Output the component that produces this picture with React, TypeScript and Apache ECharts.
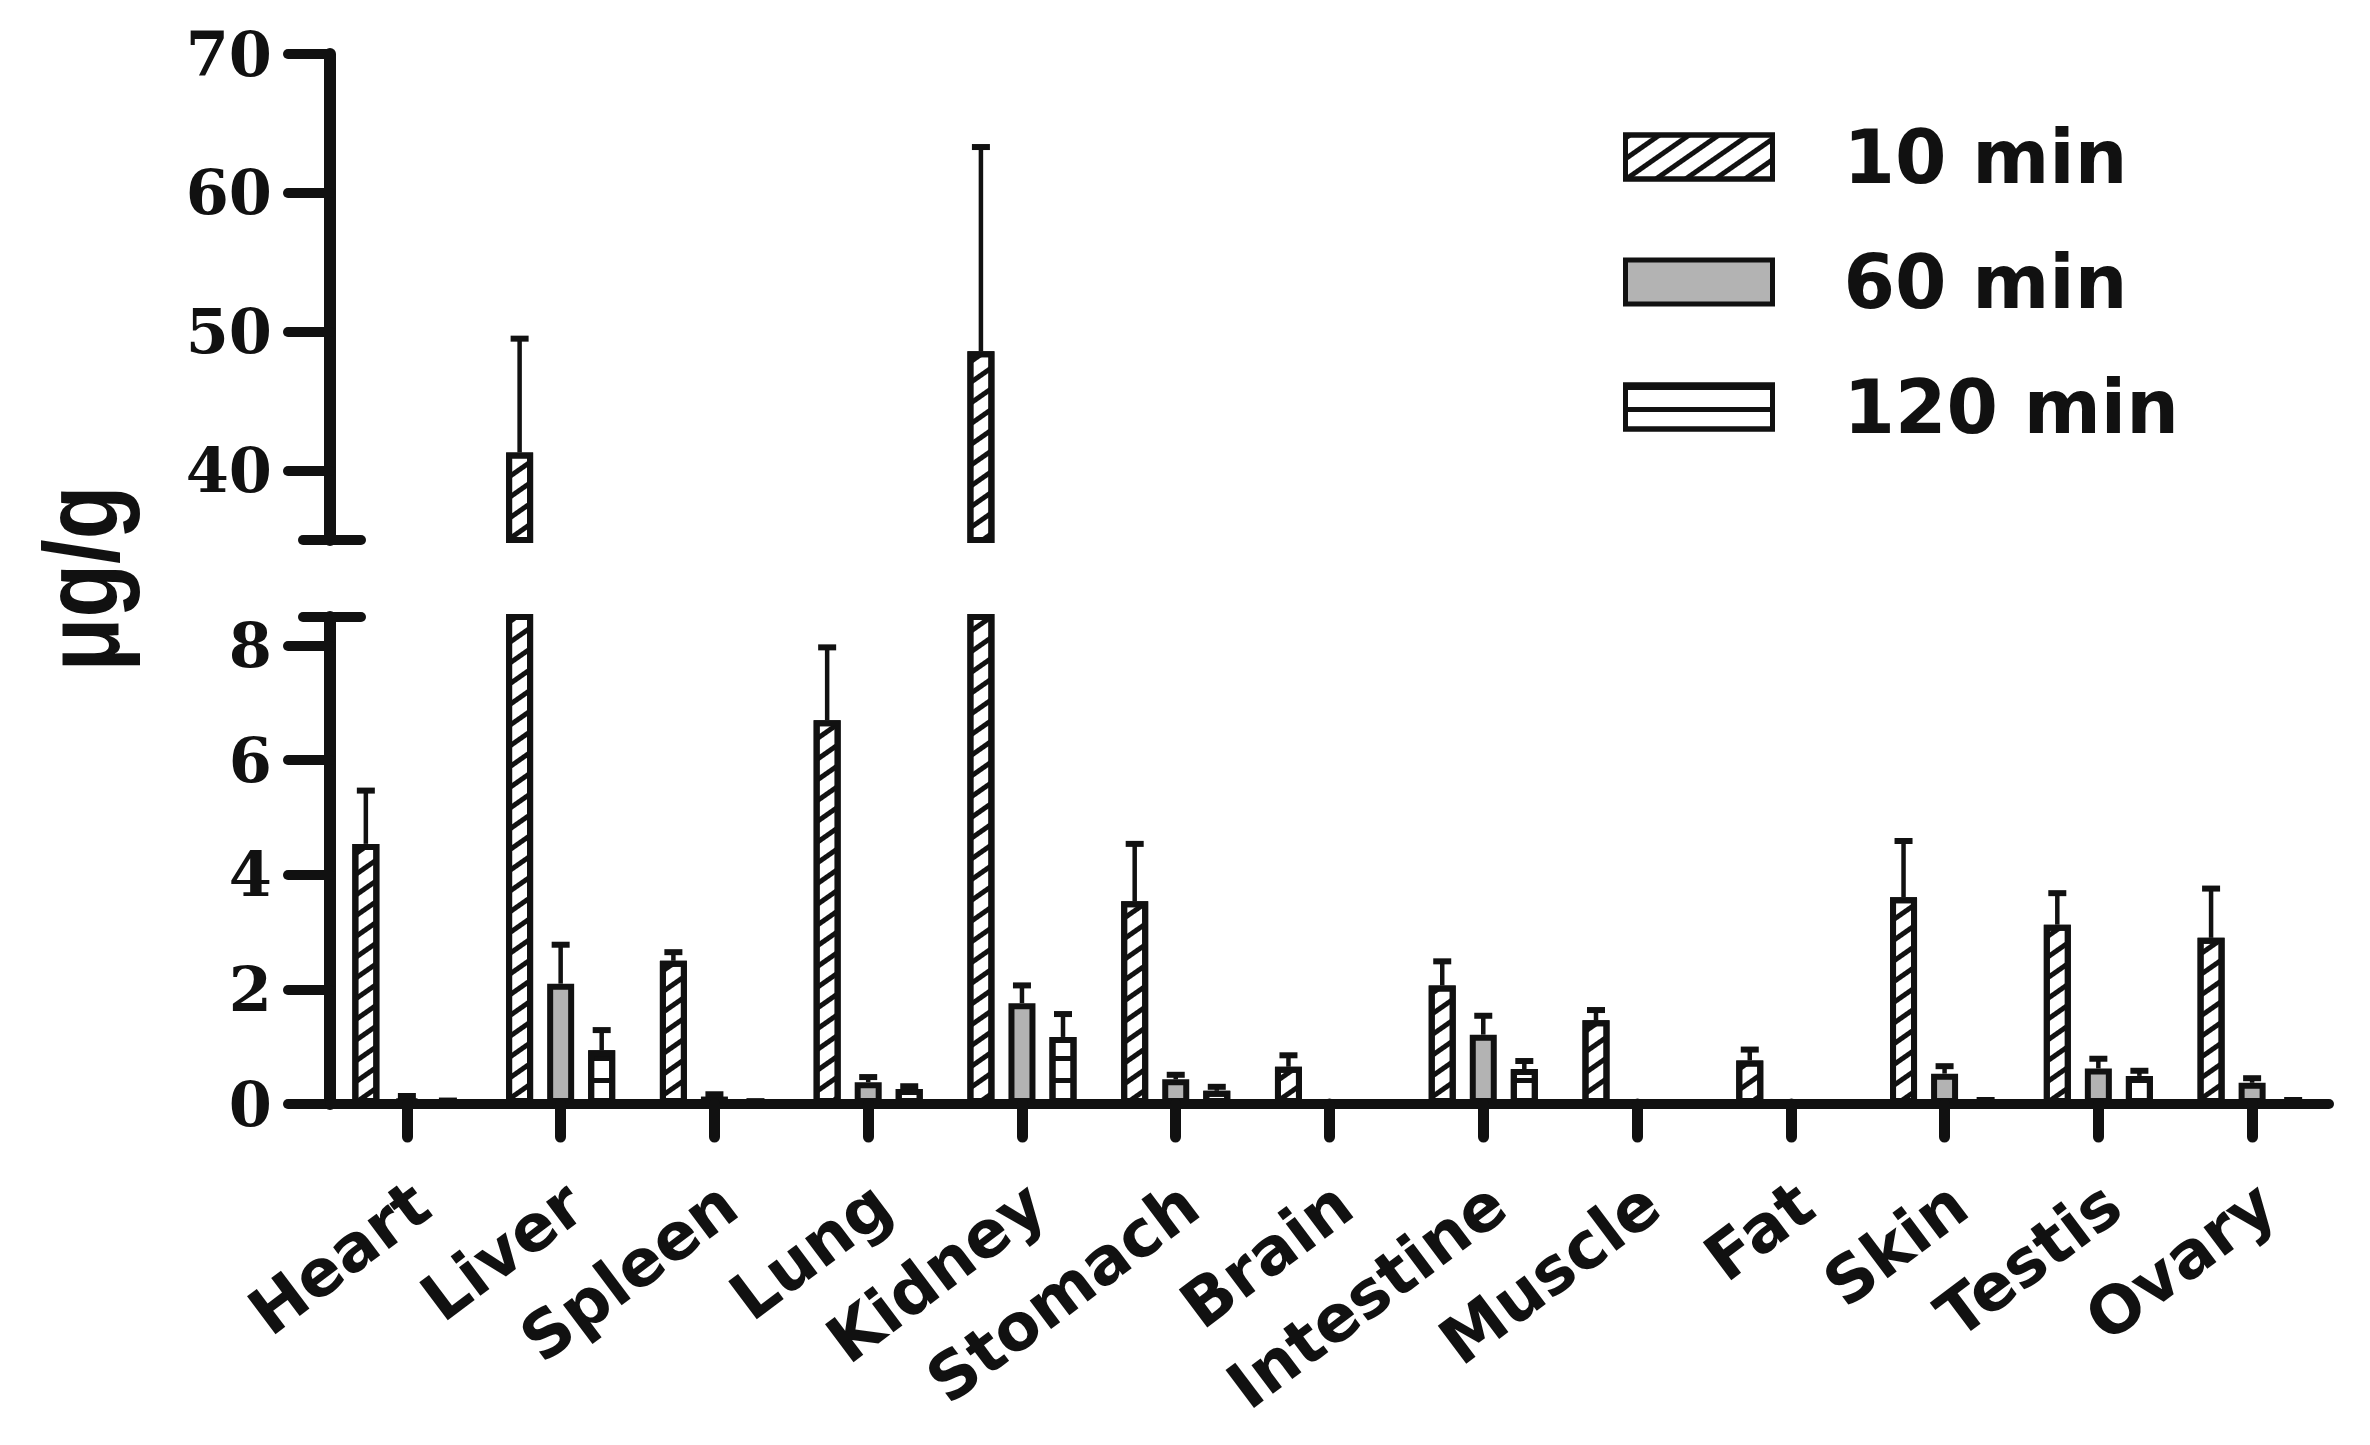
import React, { useEffect, useRef } from 'react';
import * as echarts from 'echarts';

// ---- data ----
const categories = ['Heart', 'Liver', 'Spleen', 'Lung', 'Kidney', 'Stomach', 'Brain', 'Intestine', 'Muscle', 'Fat', 'Skin', 'Testis', 'Ovary'];
const seriesNames = ['10 min', '60 min', '120 min'];
const mean10 = [4.54, 41.3, 2.50, 6.70, 48.6, 3.54, 0.65, 2.07, 1.46, 0.76, 3.61, 3.13, 2.90];
const err10 = [0.93, 8.2, 0.15, 1.27, 14.7, 1.0, 0.2, 0.42, 0.18, 0.19, 0.98, 0.55, 0.86];
const mean60 = [0.10, 2.10, 0.13, 0.38, 1.76, 0.43, 0, 1.21, 0.06, 0.05, 0.53, 0.62, 0.37];
const err60 = [0.04, 0.68, 0.04, 0.09, 0.31, 0.08, 0, 0.33, 0, 0, 0.13, 0.17, 0.08];
const mean120 = [0.04, 0.94, 0.03, 0.26, 1.17, 0.23, 0, 0.61, 0, 0, 0.05, 0.49, 0.05];
const err120 = [0.02, 0.35, 0.02, 0.05, 0.40, 0.07, 0, 0.14, 0, 0, 0.02, 0.09, 0.02];
const upperTicks = [40, 50, 60, 70];
const lowerTicks = [0, 2, 4, 6, 8];
const upperRange = [35, 70];
const lowerRange = [0, 8.5];
const yTitle = 'μg/g';

const means = [mean10, mean60, mean120];
const errs = [err10, err60, err120];

// ---- layout / style ----
const W = 2370;
const H = 1445;
const GRID_LEFT = 330;
const GRID_RIGHT = 41;
const UPPER_TOP = 54;
const UPPER_H = 486;
const LOWER_TOP = 617;
const LOWER_H = 487;
const BAR_W = 27;
const BAR_GAP = 0.52;
const INK = '#111';

const decals: any[] = [
  { symbol: 'rect', symbolSize: 1, color: INK, backgroundColor: '#fff', dashArrayX: [1, 0], dashArrayY: [5, 11.5], rotation: -0.61 },
  null,
  { symbol: 'rect', symbolSize: 1, color: INK, backgroundColor: '#fff', dashArrayX: [1, 0], dashArrayY: [5, 17], rotation: 0 },
];
const fills = ['#fff', '#b3b3b3', '#fff'];

function buildOption() {
  const series: any[] = [];
  [0, 1].forEach((g) => {
    seriesNames.forEach((name, s) => {
      const it: any = { color: fills[s], borderColor: INK, borderWidth: 6 };
      if (decals[s]) it.decal = decals[s];
      series.push({
        type: 'bar',
        name,
        xAxisIndex: g,
        yAxisIndex: g,
        data: means[s],
        barWidth: BAR_W,
        barGap: Math.round(BAR_GAP * 100) + '%',
        itemStyle: it,
        clip: true,
        silent: true,
        z: 2,
      });
    });
    seriesNames.forEach((name, s) => {
      const range = g === 0 ? upperRange : lowerRange;
      const data = categories
        .map((_, i) => [i, means[s][i], errs[s][i]])
        .filter((d) => d[2] > 0 && (g === 0 ? d[1] >= range[0] : d[1] + d[2] <= range[1]));
      series.push({
        type: 'custom',
        name: 'err-' + name,
        xAxisIndex: g,
        yAxisIndex: g,
        data,
        encode: { x: 0, y: 1 },
        clip: true,
        silent: true,
        z: 3,
        renderItem: (params: any, api: any) => {
          const m = api.value(1);
          const e = api.value(2);
          const p0 = api.coord([api.value(0), m]);
          const p1 = api.coord([api.value(0), m + e]);
          const cx = p0[0] + (s - 1) * BAR_W * (1 + BAR_GAP);
          return {
            type: 'group',
            children: [
              { type: 'line', shape: { x1: cx, y1: p0[1], x2: cx, y2: p1[1] }, style: { stroke: INK, lineWidth: 4.5 } },
              { type: 'line', shape: { x1: cx - 9, y1: p1[1], x2: cx + 9, y2: p1[1] }, style: { stroke: INK, lineWidth: 6 } },
            ],
          };
        },
      });
    });
  });

  const yLabel = { fontFamily: 'DejaVu Serif', fontWeight: 'bold', fontSize: 62, color: INK, margin: 58 };

  return {
    animation: false,
    backgroundColor: '#fff',
    grid: [
      { left: GRID_LEFT, right: GRID_RIGHT, top: UPPER_TOP, height: UPPER_H },
      { left: GRID_LEFT, right: GRID_RIGHT, top: LOWER_TOP, height: LOWER_H },
    ],
    legend: {
      data: seriesNames,
      orient: 'vertical',
      left: 1623,
      top: 120,
      padding: 0,
      itemWidth: 147,
      itemHeight: 44,
      itemGap: 51,
      icon: 'rect',
      selectedMode: false,
      itemStyle: { borderWidth: 5, borderColor: INK },
      textStyle: { fontFamily: 'DejaVu Sans', fontWeight: 'bold', fontSize: 74, color: INK, padding: [4, 0, 0, 66] },
    },
    xAxis: [
      { gridIndex: 0, type: 'category', data: categories, show: false },
      {
        gridIndex: 1,
        type: 'category',
        data: categories,
        z: 5,
        axisLine: { show: true, lineStyle: { color: INK, width: 10 } },
        axisTick: { show: true, alignWithLabel: true, length: 33, lineStyle: { color: INK, width: 11, cap: 'round' } },
        axisLabel: {
          rotate: 37,
          interval: 0,
          margin: 103,
          fontFamily: 'DejaVu Sans',
          fontWeight: 'bold',
          fontSize: 65,
          color: INK,
          padding: [0, -18, 0, 0],
        },
        splitLine: { show: false },
      },
    ],
    yAxis: [
      {
        gridIndex: 0,
        type: 'value',
        min: upperRange[0],
        max: upperRange[1],
        interval: 5,
        axisLine: { show: true, lineStyle: { color: INK, width: 12 } },
        axisTick: { show: true, length: 42, lineStyle: { color: INK, width: 10, cap: 'round' }, customValues: upperTicks },
        axisLabel: { ...yLabel, customValues: upperTicks },
        splitLine: { show: false },
      },
      {
        gridIndex: 1,
        type: 'value',
        min: lowerRange[0],
        max: lowerRange[1],
        interval: 0.5,
        axisLine: { show: true, lineStyle: { color: INK, width: 12 } },
        axisTick: { show: true, length: 42, lineStyle: { color: INK, width: 10, cap: 'round' }, customValues: lowerTicks },
        axisLabel: { ...yLabel, customValues: lowerTicks },
        splitLine: { show: false },
      },
    ],
    series,
  };
}

export default function App() {
  const ref = useRef<HTMLDivElement>(null);
  useEffect(() => {
    document.body.style.margin = '0';
    if (!ref.current) return;
    const chart = echarts.init(ref.current, null, { renderer: 'svg', width: W, height: H });
    chart.setOption(buildOption() as any);
    const yBreakTop = chart.convertToPixel({ yAxisIndex: 0 } as any, upperRange[0]) as number;
    const yBreakBottom = chart.convertToPixel({ yAxisIndex: 1 } as any, lowerRange[1]) as number;
    const capStyle = { stroke: INK, lineWidth: 10, lineCap: 'round' };
    chart.setOption({
      graphic: [
        { type: 'line', z: 10, shape: { x1: GRID_LEFT - 27, y1: yBreakTop, x2: GRID_LEFT + 31, y2: yBreakTop }, style: capStyle },
        { type: 'line', z: 10, shape: { x1: GRID_LEFT - 27, y1: yBreakBottom, x2: GRID_LEFT + 31, y2: yBreakBottom }, style: capStyle },
        {
          type: 'group',
          x: 82,
          y: (yBreakTop + yBreakBottom) / 2,
          scaleX: 1.2,
          children: [
            {
              type: 'text',
              x: 0,
              y: 0,
              rotation: Math.PI / 2,
              style: {
                text: yTitle,
                fill: INK,
                font: 'bold 88px "Liberation Sans"',
                align: 'center',
                verticalAlign: 'middle',
                textAlign: 'center',
                textVerticalAlign: 'middle',
              },
            },
          ],
        },
      ],
    } as any);
    return () => chart.dispose();
  }, []);
  return <div ref={ref} style={{ width: W, height: H }} />;
}
